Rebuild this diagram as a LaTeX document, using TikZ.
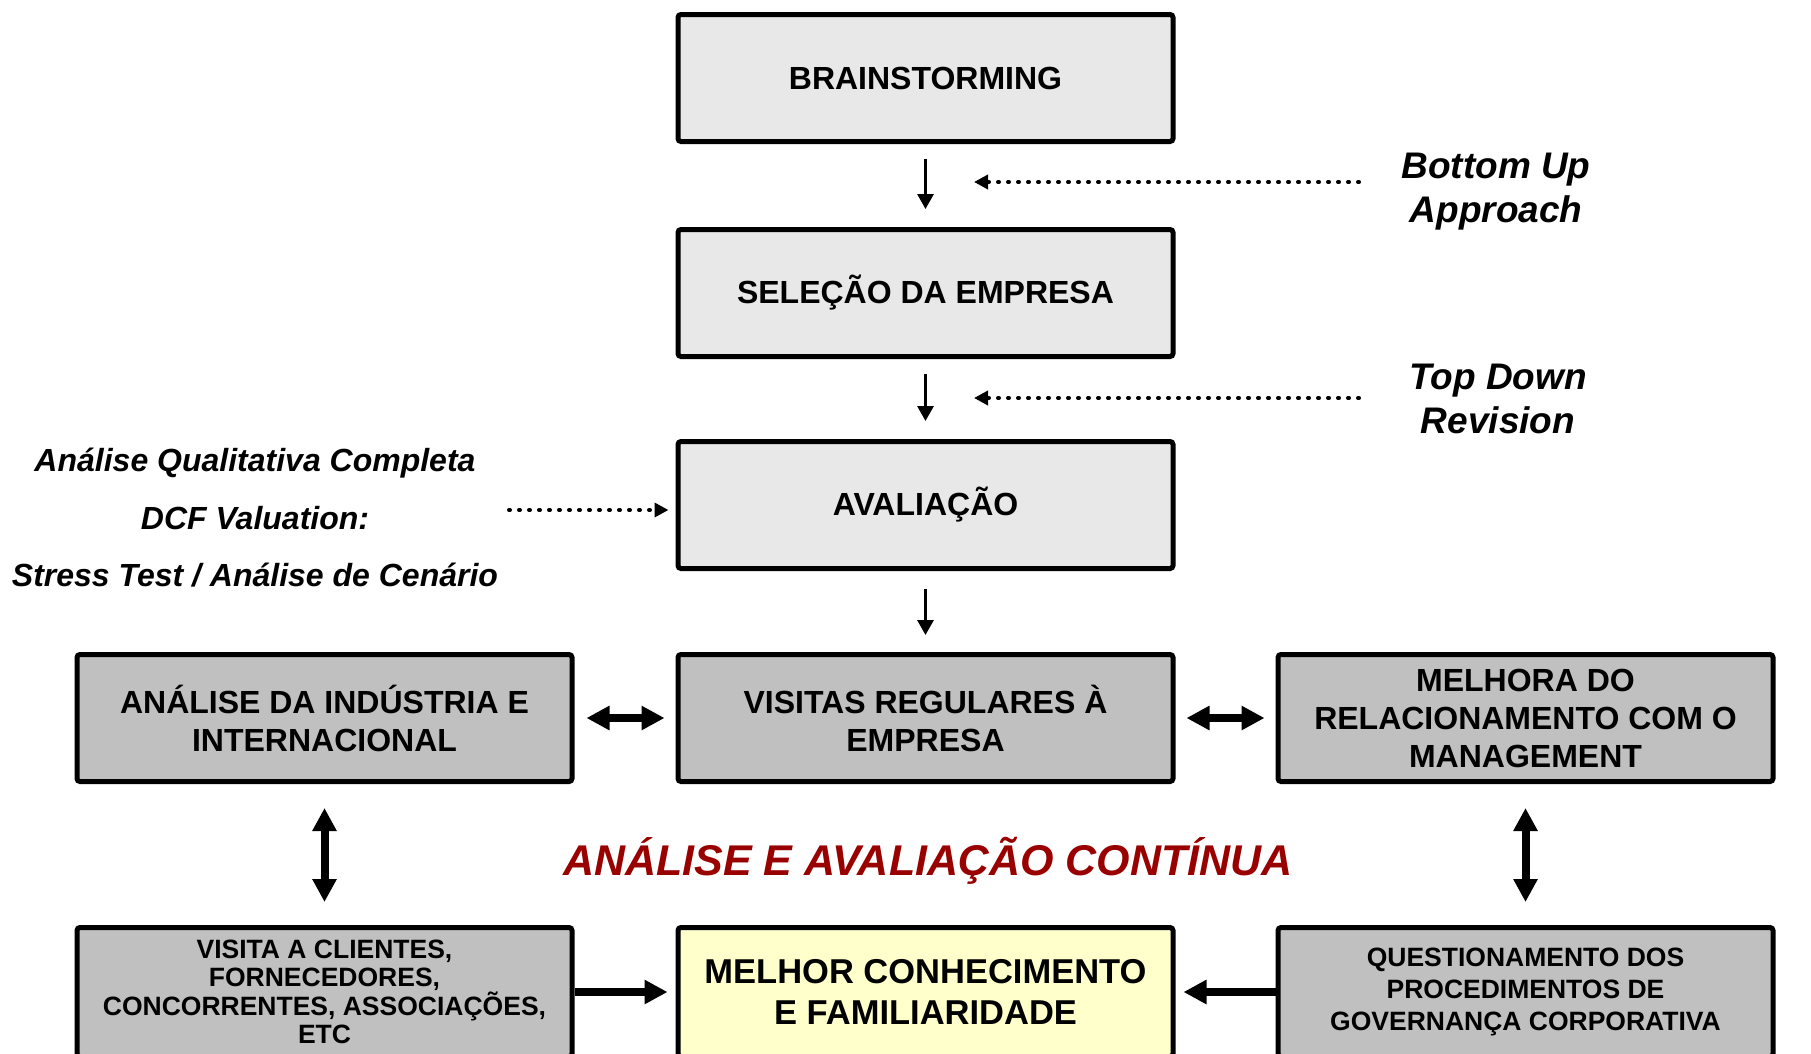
\documentclass[tikz,border=0pt]{standalone}
\usepackage{fontspec}
\setmainfont{Liberation Sans}
\usetikzlibrary{arrows.meta}
\definecolor{lgray}{HTML}{E8E8E8}
\definecolor{mgray}{HTML}{C0C0C0}
\definecolor{lyellow}{HTML}{FFFFCC}
\definecolor{dred}{HTML}{990000}
\begin{document}
\begin{tikzpicture}[x=1pt,y=-1pt,
  box/.style={draw=black, line width=5pt, rounded corners=3pt, minimum width=495pt,
    align=center, inner sep=0pt, font=\bfseries\fontsize{32}{38}\selectfont},
  topbox/.style={box, fill=lgray, minimum height=127pt},
  midbox/.style={box, fill=mgray, minimum height=127pt},
  botbox/.style={box, fill=mgray, minimum height=129pt},
  ybox/.style={box, fill=lyellow, minimum height=129pt},
  thinarrow/.style={line width=3pt, -{Triangle[length=15pt,width=16pt]}},
  dotarrow/.style={line width=4pt, line cap=round, dash pattern=on 1pt off 9pt,
    -{Triangle[length=14pt,width=14pt]}},
  bigdouble/.style={line width=8pt, {Triangle[length=23pt,width=23pt]}-{Triangle[length=23pt,width=23pt]}},
  bigsingle/.style={line width=8pt, -{Triangle[length=23pt,width=23pt]}},
  note/.style={align=center, inner sep=0pt, font=\bfseries\itshape\fontsize{37}{44}\selectfont},
]
\useasboundingbox (0,0) rectangle (1811,1053);
\clip (0,0) rectangle (1811,1053);

% top column
\node[topbox] (brain) at (925.5,78) {BRAINSTORMING};
\node[topbox] (sel) at (925.5,293) {SELEÇÃO DA EMPRESA};
\node[topbox] (aval) at (925.5,505) {AVALIAÇÃO};

% middle row
\node[midbox] (ind) at (324.5,718) {ANÁLISE DA INDÚSTRIA E\\INTERNACIONAL};
\node[midbox] (vis) at (925.5,718) {VISITAS REGULARES À\\EMPRESA};
\node[midbox] (man) at (1525.5,718) {MELHORA DO\\RELACIONAMENTO COM O\\MANAGEMENT};

% bottom row
\node[botbox, font=\bfseries\fontsize{26.5}{28.5}\selectfont] (cli) at (324.5,992)
  {VISITA A CLIENTES,\\FORNECEDORES,\\CONCORRENTES, ASSOCIAÇÕES,\\ETC};
\node[ybox, font=\bfseries\fontsize{34.5}{41.5}\selectfont] (mel) at (925.5,992)
  {MELHOR CONHECIMENTO\\E FAMILIARIDADE};
\node[botbox, font=\bfseries\fontsize{26.5}{32}\selectfont] (gov) at (1525.5,992)
  {\raisebox{-3.5pt}{\parbox{480pt}{\centering QUESTIONAMENTO DOS\\PROCEDIMENTOS DE\\GOVERNANÇA CORPORATIVA}}};

% side notes
\node[note] (bu) at (1496,192) {Bottom Up\\Approach};
\node[note] (td) at (1498,399) {Top Down\\Revision};
\node[note, font=\bfseries\itshape\fontsize{32}{57.5}\selectfont] (left) at (255,518)
  {Análise Qualitativa Completa\\DCF Valuation:\\Stress Test / Análise de Cenário};
\node[inner sep=0pt, text=dred, font=\bfseries\itshape\fontsize{43}{50}\selectfont] (cont) at (928,861)
  {ANÁLISE E AVALIAÇÃO CONTÍNUA};

% vertical thin arrows
\draw[thinarrow, shorten <=15pt, shorten >=18pt] (brain) -- (sel);
\draw[thinarrow, shorten <=15pt, shorten >=18pt] (sel) -- (aval);
\draw[thinarrow, shorten <=18pt, shorten >=17pt] (aval) -- (vis);

% dotted arrows
\coordinate (d1s) at (1359,182);
\coordinate (d1e) at (974,182);
\coordinate (d2s) at (1359,398);
\coordinate (d2e) at (974,398);
\coordinate (d3s) at (509,510);
\draw[dotarrow] (d1s) -- (d1e);
\draw[dotarrow] (d2s) -- (d2e);
\draw[dotarrow, shorten >=7pt] (d3s) -- (d3s -| aval.west);

% double arrows middle row
\draw[bigdouble, shorten <=12pt, shorten >=11pt] (ind) -- (vis);
\draw[bigdouble, shorten <=11pt, shorten >=11pt] (vis) -- (man);

% vertical double arrows
\draw[bigdouble, shorten <=24pt, shorten >=23pt] (ind) -- (cli);
\draw[bigdouble, shorten <=24pt, shorten >=23pt] (man) -- (gov);

% bottom single arrows
\draw[bigsingle, shorten >=8pt] (cli) -- (mel);
\draw[bigsingle, shorten >=8pt] (gov) -- (mel);
\end{tikzpicture}
\end{document}
